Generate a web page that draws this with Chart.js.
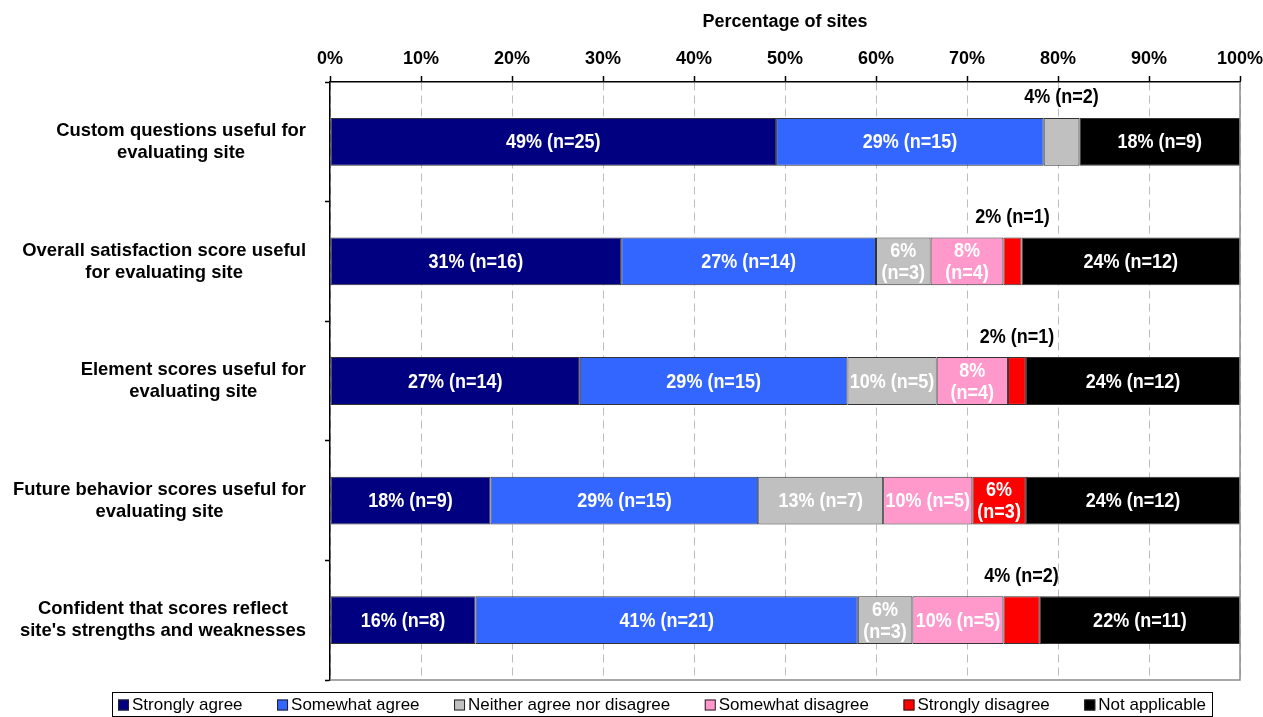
<!DOCTYPE html>
<html>
<head>
<meta charset="utf-8">
<title>Usefulness of satisfaction scores</title>
<script src="https://cdn.jsdelivr.net/npm/chart.js@4.4.1/dist/chart.umd.min.js"></script>
<style>
  html, body { margin: 0; padding: 0; background: #fff; }
  #wrap { width: 1263px; height: 717px; }
</style>
</head>
<body>
<div id="wrap"><canvas id="chart" width="1263" height="717"></canvas></div>
<script>
// Survey statements (one bar each)
const categories = [
  ['Custom questions useful for', 'evaluating site'],
  ['Overall satisfaction score useful', 'for evaluating site'],
  ['Element scores useful for', 'evaluating site'],
  ['Future behavior scores useful for', 'evaluating site'],
  ['Confident that scores reflect', "site's strengths and weaknesses"]
];

const seriesNames = ['Strongly agree', 'Somewhat agree', 'Neither agree nor disagree',
  'Somewhat disagree', 'Strongly disagree', 'Not applicable'];
const seriesColors = ['#000080', '#3366FF', '#C0C0C0', '#FF99CC', '#FF0000', '#000000'];

// Number of sites giving each answer
const stronglyAgree     = [25, 16, 14, 9, 8];
const somewhatAgree     = [15, 14, 15, 15, 21];
const neither           = [2, 3, 5, 7, 3];
const somewhatDisagree  = [0, 4, 4, 5, 5];
const stronglyDisagree  = [0, 1, 1, 3, 2];
const notApplicable     = [9, 12, 12, 12, 11];

// Percentages printed next to the counts
const stronglyAgreePct    = [49, 31, 27, 18, 16];
const somewhatAgreePct    = [29, 27, 29, 29, 41];
const neitherPct          = [4, 6, 10, 13, 6];
const somewhatDisagreePct = [0, 8, 8, 10, 10];
const stronglyDisagreePct = [0, 2, 2, 6, 4];
const notApplicablePct    = [18, 24, 24, 24, 22];

const xTicks = [0, 10, 20, 30, 40, 50, 60, 70, 80, 90, 100];

const counts = [stronglyAgree, somewhatAgree, neither, somewhatDisagree, stronglyDisagree, notApplicable];
const pcts = [stronglyAgreePct, somewhatAgreePct, neitherPct, somewhatDisagreePct, stronglyDisagreePct, notApplicablePct];

// each bar is a 100% stack of that row's answers
const rowTotals = categories.map((_, i) => counts.reduce((s, arr) => s + arr[i], 0));

const FONT = '"Liberation Sans", Arial, Helvetica, sans-serif';
Chart.defaults.font.family = FONT;
Chart.defaults.color = '#000';

function scaledText(ctx, text, x, y, sx) {
  ctx.save();
  ctx.translate(x, y);
  ctx.scale(sx, 1);
  ctx.fillText(text, 0, 0);
  ctx.restore();
}

// value labels inside the segments, or above when the segment is too thin
const segmentLabels = {
  id: 'segmentLabels',
  afterDatasetsDraw(chart) {
    const ctx = chart.ctx;
    const sx = 0.9;
    ctx.save();
    ctx.font = 'bold 20px ' + FONT;
    ctx.textAlign = 'center';
    ctx.textBaseline = 'middle';
    chart.data.datasets.forEach((ds, di) => {
      const meta = chart.getDatasetMeta(di);
      meta.data.forEach((bar, i) => {
        const n = ds.counts[i];
        if (!n) return;
        const left = Math.min(bar.x, bar.base);
        const right = Math.max(bar.x, bar.base);
        const w = right - left;
        const cx = (left + right) / 2;
        const full = ds.pcts[i] + '% (n=' + n + ')';
        const lines = [ds.pcts[i] + '%', '(n=' + n + ')'];
        const fullW = ctx.measureText(full).width * sx;
        const lineW = Math.max(...lines.map(t => ctx.measureText(t).width)) * sx;
        if (fullW <= w - 2) {
          ctx.fillStyle = '#fff';
          scaledText(ctx, full, cx, bar.y + 1, sx);
        } else if (lineW <= w - 2) {
          ctx.fillStyle = '#fff';
          scaledText(ctx, lines[0], cx, bar.y - 10, sx);
          scaledText(ctx, lines[1], cx, bar.y + 12, sx);
        } else {
          ctx.fillStyle = '#000';
          scaledText(ctx, full, cx, bar.y - bar.height / 2 - 20, sx);
        }
      });
    });
    ctx.restore();
  }
};

// row captions: each block right-aligned, lines centred within it
const rowCaptions = {
  id: 'rowCaptions',
  afterDraw(chart) {
    const ctx = chart.ctx;
    const y = chart.scales.y;
    const sx = 0.97;
    const rightEdge = y.right - 24;
    ctx.save();
    ctx.font = 'bold 19px ' + FONT;
    ctx.fillStyle = '#000';
    ctx.textAlign = 'center';
    ctx.textBaseline = 'middle';
    categories.forEach((lines, i) => {
      const cy = y.getPixelForValue(i);
      const blockW = Math.max(...lines.map(t => ctx.measureText(t).width)) * sx;
      const cx = rightEdge - blockW / 2;
      const lh = 22;
      lines.forEach((t, k) => {
        scaledText(ctx, t, cx, cy + (k - (lines.length - 1) / 2) * lh, sx);
      });
    });
    ctx.restore();
  }
};

// grey frame on the right and bottom of the plot
const plotFrame = {
  id: 'plotFrame',
  afterDatasetsDraw(chart) {
    const { ctx, chartArea: a } = chart;
    ctx.save();
    ctx.strokeStyle = '#8c8c8c';
    ctx.lineWidth = 1.5;
    ctx.beginPath();
    ctx.moveTo(a.right, a.top);
    ctx.lineTo(a.right, a.bottom);
    ctx.lineTo(a.left, a.bottom);
    ctx.stroke();
    ctx.restore();
  }
};

// boxed legend along the bottom edge
const boxedLegend = {
  id: 'boxedLegend',
  afterDraw(chart) {
    const ctx = chart.ctx;
    const left = 112, right = 1212, top = 692, bottom = 716;
    const box = 11, boxGap = 3, pad = 6;
    ctx.save();
    ctx.font = '17px ' + FONT;
    ctx.textBaseline = 'middle';
    const items = chart.data.datasets.map(ds => ({
      text: ds.label, color: ds.backgroundColor, w: ctx.measureText(ds.label).width
    }));
    const used = items.reduce((s, it) => s + box + boxGap + it.w, 0);
    const gap = (right - left - 2 * pad - used) / (items.length - 1);
    ctx.strokeStyle = '#000';
    ctx.lineWidth = 1;
    ctx.strokeRect(left + 0.5, top + 0.5, right - left, bottom - top);
    const cy = (top + bottom) / 2 + 1;
    let x = left + pad;
    items.forEach(it => {
      ctx.fillStyle = it.color;
      ctx.fillRect(x, cy - box / 2, box, box);
      ctx.strokeStyle = '#222';
      ctx.strokeRect(x + 0.5, cy - box / 2 + 0.5, box - 1, box - 1);
      ctx.fillStyle = '#000';
      ctx.fillText(it.text, x + box + boxGap, cy);
      x += box + boxGap + it.w + gap;
    });
    ctx.restore();
  }
};

const datasets = seriesNames.map((name, s) => ({
  label: name,
  data: counts[s].map((n, i) => n / rowTotals[i] * 100),
  counts: counts[s],
  pcts: pcts[s],
  backgroundColor: seriesColors[s],
  borderColor: '#333',
  borderWidth: 1,
  borderSkipped: false,
  barPercentage: 0.4,
  categoryPercentage: 1
}));

new Chart(document.getElementById('chart'), {
  type: 'bar',
  data: { labels: categories, datasets },
  options: {
    indexAxis: 'y',
    responsive: false,
    animation: false,
    devicePixelRatio: 1,
    layout: { padding: { left: 0, right: 23, top: 0, bottom: 37 } },
    plugins: {
      legend: { display: false },
      tooltip: { enabled: false }
    },
    scales: {
      x: {
        position: 'top',
        stacked: true,
        min: 0,
        max: 100,
        afterBuildTicks: scale => { scale.ticks = xTicks.map(v => ({ value: v })); },
        ticks: {
          callback: v => v + '%',
          color: '#000',
          padding: 6,
          maxRotation: 0,
          font: { size: 18, weight: 'bold' }
        },
        grid: {
          color: '#bdbdbd',
          lineWidth: 1,
          drawTicks: true,
          tickLength: 6,
          tickColor: '#000',
          tickWidth: 1.5
        },
        border: { display: true, color: '#000', width: 1.5, dash: [8, 5] },
        title: {
          display: true,
          text: 'Percentage of sites',
          color: '#000',
          font: { size: 18, weight: 'bold' },
          padding: { top: 11, bottom: 0 }
        },
        afterFit: scale => {
          scale.height = 82;
          scale.paddingLeft = 0;
          scale.paddingRight = 0;
        }
      },
      y: {
        stacked: true,
        ticks: { display: false },
        grid: {
          drawOnChartArea: false,
          offset: true,
          drawTicks: true,
          tickLength: 5,
          tickColor: '#000',
          tickWidth: 1.5
        },
        border: { display: true, color: '#000', width: 1.5 },
        afterFit: scale => { scale.width = 330; }
      }
    }
  },
  plugins: [segmentLabels, rowCaptions, plotFrame, boxedLegend]
});
</script>
</body>
</html>
